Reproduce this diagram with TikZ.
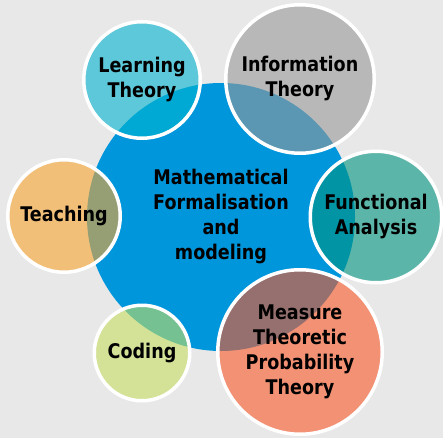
\documentclass[tikz,border=0pt]{standalone}
\usepackage{fontspec}
\newfontfamily\bubblefont[FakeStretch=0.87]{DejaVu Sans}
\usepackage{tikz}
\usetikzlibrary{positioning,calc}
\definecolor{bgGray}{RGB}{232,232,232}
\definecolor{mainBlue}{RGB}{0,150,220}
\definecolor{learnCyan}{RGB}{0,180,207}
\definecolor{infoGray}{RGB}{152,152,152}
\definecolor{funcTeal}{RGB}{0,147,128}
\definecolor{measSalmon}{RGB}{250,87,37}
\definecolor{codeLime}{RGB}{197,223,97}
\definecolor{teachOrange}{RGB}{250,165,48}

\begin{document}
\begin{tikzpicture}[x=1pt, y=-1pt,
  every node/.style={font=\bubblefont\bfseries\fontsize{20.2}{25}\selectfont, align=center, text=black},
  bubble/.style={circle, draw=white, line width=3.5pt, fill opacity=0.6, text opacity=1, inner sep=0pt}]
  % Background
  \fill[bgGray] (0,0) rectangle (443,438);
  \useasboundingbox (0,0) rectangle (443,438);
  % Central circle
  \node[circle, fill=mainBlue, minimum size=268pt, inner sep=0pt]
    (math) at (221,217) {Mathematical\\Formalisation\\and\\modeling};
  % Satellite circles
  \node[bubble, fill=learnCyan, minimum size=116.5pt]
    (learn) at (142,80) {Learning\\Theory};
  \node[bubble, fill=infoGray, minimum size=148.5pt]
    (info) at (300,79) {Information\\Theory};
  \node[bubble, fill=funcTeal, minimum size=131.5pt]
    (func) at (376,217) {Functional\\Analysis};
  \node[bubble, fill=measSalmon, minimum size=164.5pt]
    (meas) at (300,352) {Measure\\Theoretic\\Probability\\Theory};
  \node[bubble, fill=codeLime, minimum size=95.5pt]
    (code) at (142,353) {Coding};
  \node[bubble, fill=teachOrange, minimum size=112.5pt]
    (teach) at (64,216) {Teaching};
\end{tikzpicture}
\end{document}
